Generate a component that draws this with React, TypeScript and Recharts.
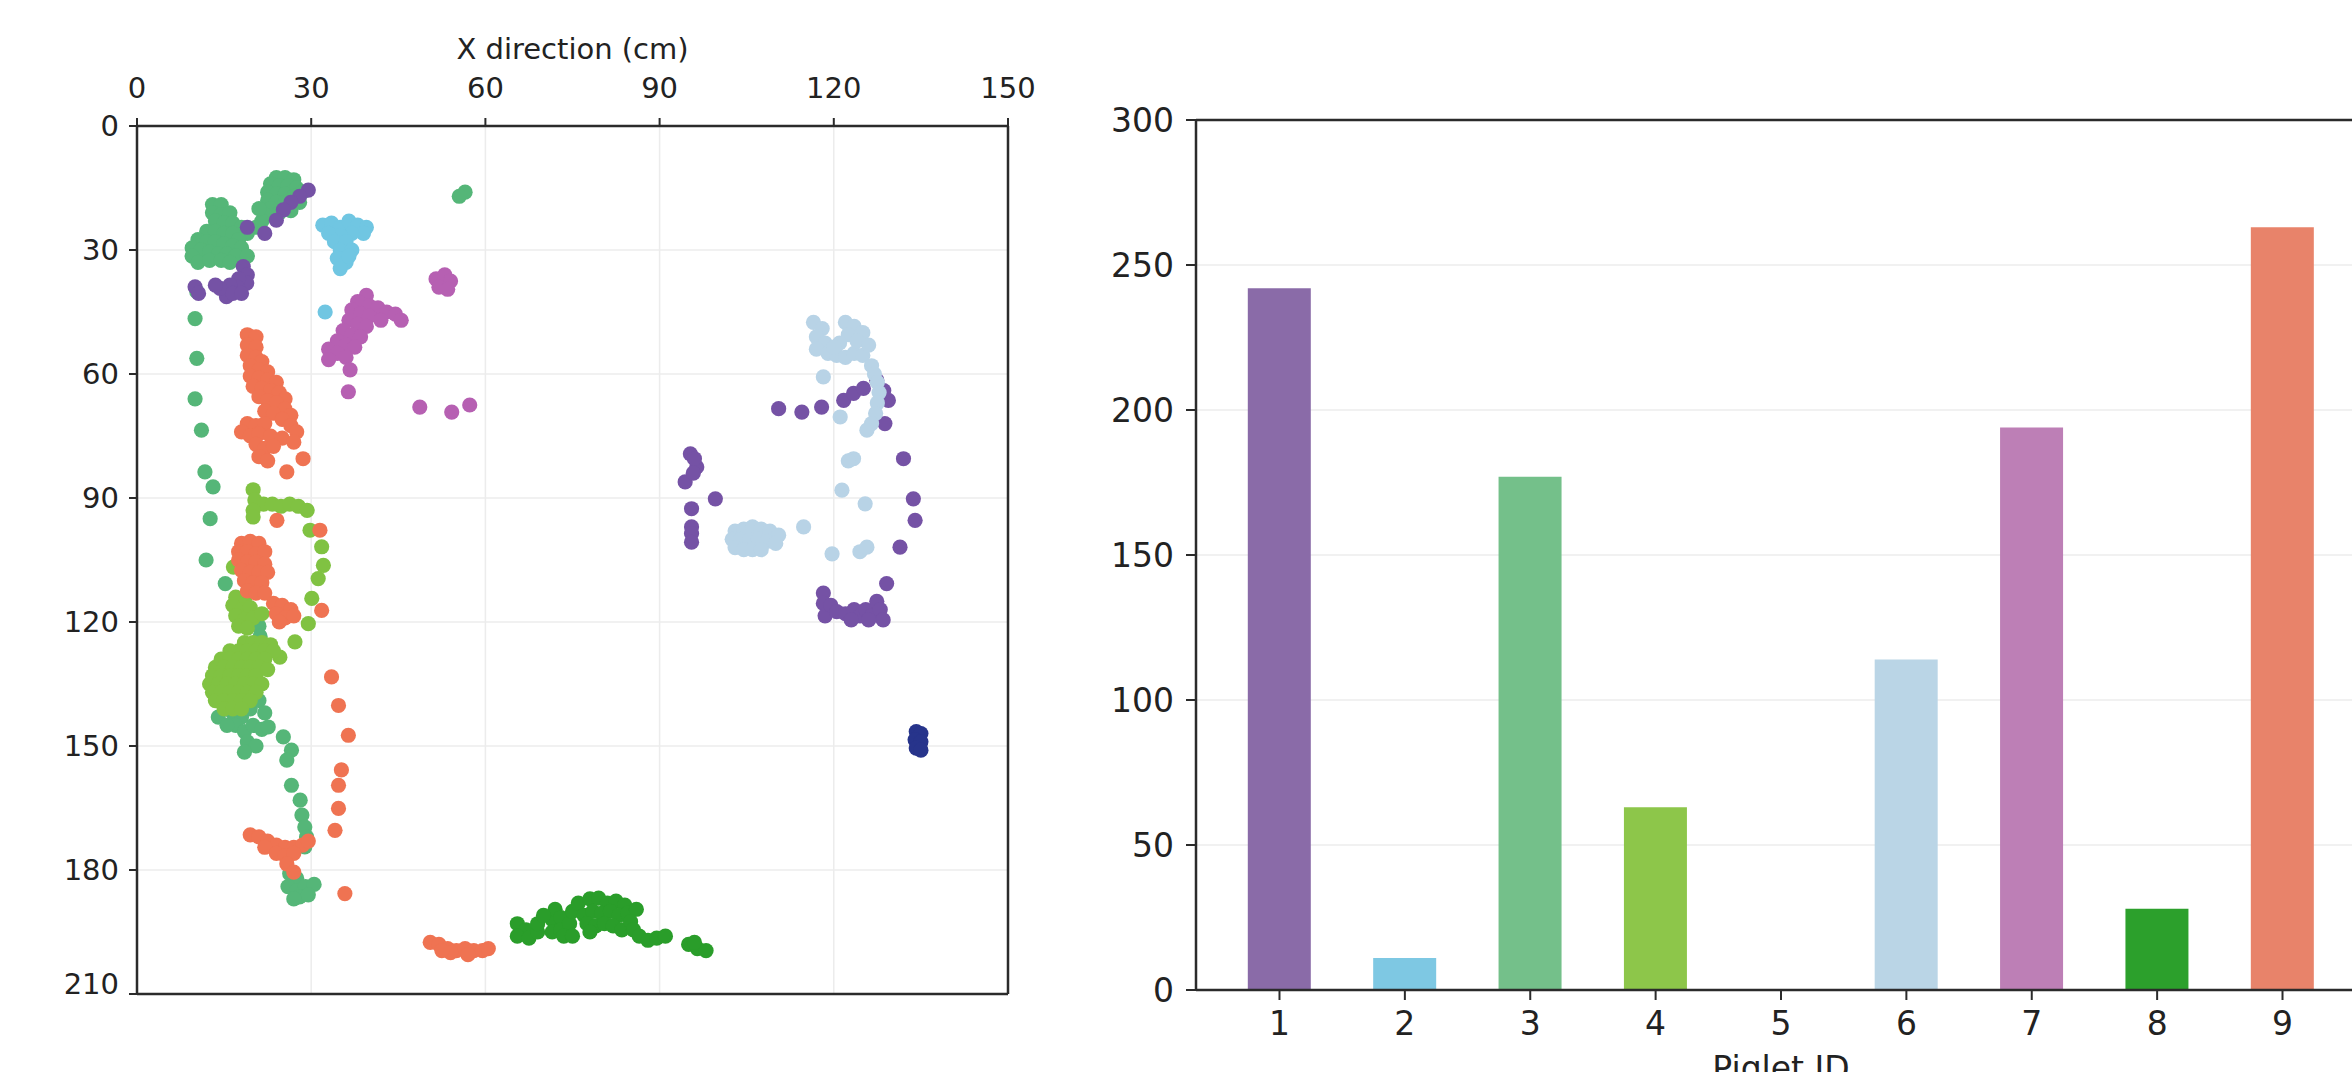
import React from 'react';
import {
  ScatterChart, Scatter, XAxis, YAxis, CartesianGrid, ReferenceLine,
  BarChart, Bar, Cell,
} from 'recharts';

type P = [number, number];

// ---------- scatter data (x, y in cm) ----------
const piglet1Points: P[] = [
  [29.5, 15.5], [28, 17], [26.5, 18.5], [25.2, 20.3], [24, 22.8], [22, 26], [19, 24.5],
  [18.3, 34], [19, 36], [18.9, 38], [17.5, 37], [17.2, 39], [16, 38.5], [15.4, 41.3], [14.3, 39.3],
  [16.5, 40.5], [18, 40.5], [13.5, 38.5], [10, 38.9], [10.6, 40.5],
  [110.5, 68.4], [114.5, 69.2], [117.9, 68], [121.7, 66.4], [123.4, 64.7], [125.1, 63.5], [127.4, 61.5],
  [128.6, 64], [129.4, 66.4], [128.8, 72], [132, 80.5], [133.7, 90.2], [134, 95.4], [131.4, 101.9], [129.1, 110.7],
  [118.2, 113], [118.2, 115.5], [118.5, 118.5], [119.5, 116], [120.5, 117.5], [122, 118], [123.5, 117],
  [124.5, 118.5], [125.5, 117], [126.5, 118.5], [127.4, 115], [128, 117], [128.5, 119.5], [126, 119.5], [123, 119.5],
  [95.3, 79.3], [96.4, 82.5], [94.4, 86.1], [99.6, 90.2], [95.5, 92.6], [95.5, 97], [95.5, 98.6], [95.5, 100.7],
  [96, 80.5], [95.8, 84],
];
const piglet2Points: P[] = [
  [32, 24], [33.5, 23.5], [35, 24.5], [36.5, 23], [38, 24], [39.5, 24.5], [39, 26], [37, 26], [35, 26.5],
  [33, 26], [34, 28], [36, 28], [35, 30], [37, 30], [34.5, 32], [36, 33], [35, 34.5], [36.5, 31.5], [32.4, 45],
];
const piglet3Points: P[] = [
  [24, 12.5], [25.5, 12.5], [27, 13], [23, 14], [24.5, 14.5], [26, 14.5], [27.5, 15], [22.5, 16], [24, 16.5],
  [25.5, 16.5], [27, 17], [22.5, 18], [24, 18.5], [25.5, 18.5], [23, 20], [22, 21.5], [21.5, 23], [20.5, 24.5],
  [28.5, 16], [28, 18.5], [26.5, 20.5], [21, 20], [24.5, 21],
  [13, 19], [14.5, 19], [13, 21], [14.5, 21.5], [16, 21], [13.5, 23], [15, 23.5], [16.5, 23.5], [18, 24.5], [19, 26],
  [12, 25.5], [13.5, 25.5], [15, 26], [16.5, 26], [17.5, 27.5], [10.5, 27.5], [12, 28], [13.5, 28], [15, 28.5],
  [16.5, 29], [18, 29.5], [9.5, 29.5], [11, 30], [12.5, 30.5], [14, 31], [15.5, 31], [17, 31.5], [19, 31.5],
  [9.5, 31.5], [10.5, 33], [12.5, 32.5], [14.5, 32.5], [16, 33],
  [56.5, 16], [55.5, 17],
  [10.3, 40.1], [10, 46.6], [10.3, 56.2], [10, 66], [11.1, 73.6], [11.7, 83.7], [13.1, 87.3], [12.6, 95],
  [11.9, 105], [15.2, 110.7],
  [21, 121], [21.2, 123.5], [20.5, 126],
  [15, 140], [16.5, 142], [18, 143], [19.5, 141], [21, 139], [22, 142], [17, 145], [18.5, 146.5], [20, 145],
  [21.5, 146], [19, 149], [20.5, 150], [18.5, 151.5], [14, 143], [15.5, 145],
  [22.6, 145.4], [25.2, 147.8], [26.6, 151], [25.8, 153.4], [26.6, 159.5], [28.1, 163.1], [28.4, 166.7],
  [28.9, 169.6], [29.2, 172], [28.9, 174.4],
  [26.3, 180.9], [27.5, 182], [26, 184], [27.5, 185], [29, 184], [30.5, 183.5], [28, 186.5], [29.5, 186], [27, 187],
];
const piglet4Points: P[] = [
  [20, 88], [20.3, 90.5], [21.8, 91.5], [23.3, 91.5], [24.8, 92], [26.3, 91.5], [27.8, 92], [29.3, 93], [20, 93], [20, 94.6],
  [29.8, 97.8], [31.8, 101.8], [32.1, 106.3], [31.2, 109.5], [30.1, 114.3], [29.5, 120.4], [27.2, 124.8], [24.6, 128.5],
  [16.6, 106.7], [17, 114], [18.5, 114.5], [16.5, 116], [18, 117], [19.5, 116.5], [17, 118.5], [18.5, 119.5],
  [20, 119], [21.5, 118], [17.5, 121], [19, 121.5],
  [18.5, 125], [20, 125], [21.5, 125], [23, 125.5],
  [16, 127], [17.5, 127], [19, 127], [20.5, 127], [22, 127], [23.5, 127],
  [14.5, 129], [16, 129], [17.5, 129], [19, 129], [20.5, 129], [22, 129],
  [13.5, 131], [15, 131], [16.5, 131], [18, 131], [19.5, 131], [21, 131], [22.5, 131.5],
  [13, 133], [14.5, 133], [16, 133], [17.5, 133], [19, 133], [20.5, 133],
  [12.5, 135], [14, 135], [15.5, 135], [17, 135], [18.5, 135], [20, 135], [21.5, 135],
  [13, 137], [14.5, 137], [16, 137], [17.5, 137], [19, 137], [20.5, 137],
  [13.5, 139], [15, 139], [16.5, 139], [18, 139], [19.5, 139],
  [15, 141], [16.5, 141], [18, 141],
];
const piglet5Points: P[] = [
  [134.2, 146.5], [135, 147], [134, 148.5], [135, 149], [134.2, 150.5], [135, 151],
];
const piglet6Points: P[] = [
  [116.5, 47.5], [118, 49], [117, 51], [118.5, 52.5], [117, 54], [119, 55], [120.5, 55.5], [122, 56], [123.5, 55],
  [125, 55.5], [122, 47.5], [123.5, 48.5], [125, 50], [122.5, 50.5], [124, 52], [126, 53], [121, 52.5], [120, 53.5],
  [126.5, 58], [127, 60], [127.5, 62], [127.8, 64.5], [127.5, 67], [127.2, 69.5], [126.5, 72], [125.7, 73.6],
  [118.2, 60.7], [121.1, 70.4], [123.4, 80.5], [122.5, 81], [121.4, 88.1], [125.4, 91.4], [114.8, 97],
  [119.7, 103.5], [124.5, 103], [125.7, 101.9],
  [103, 98], [104.5, 97.5], [106, 97], [107.5, 97.5], [109, 98], [110.5, 99], [102.5, 100], [104, 100],
  [105.5, 100], [107, 100], [108.5, 100.5], [110, 101], [103, 102], [104.5, 102.5], [106, 102.5], [107.5, 102.5],
];
const piglet7Points: P[] = [
  [39.5, 41], [38, 42.5], [40, 43.5], [41.5, 44], [43, 45], [44.5, 45.5], [45.5, 47], [37, 44.5], [38.5, 45.5],
  [40, 46], [42, 47], [36.5, 47], [38, 48], [39.5, 48.5], [35.5, 49.5], [37, 50.5], [38.5, 51], [34.5, 52],
  [36, 53], [37.5, 53.5], [33, 54], [34.5, 55], [36, 56], [33, 56.5],
  [36.7, 59], [36.4, 64.3],
  [51.5, 37], [53, 36], [54, 37.5], [52, 39], [53.5, 39.5],
  [48.7, 68], [54.2, 69.2], [57.3, 67.5],
];
const piglet8Points: P[] = [
  [65.5, 193], [67, 194.5], [65.5, 196], [67.5, 196.5], [69, 195], [69, 193],
  [71.5, 192], [72, 189.5], [73, 191.5], [71.5, 195], [73, 194.5], [74.5, 193], [75, 190], [73.5, 196], [75, 196],
  [70, 191], [76, 188], [77, 191],
  [78, 187], [79.5, 186.8], [81, 188], [82.5, 187.5], [84, 188.5], [78.5, 190], [80, 190.5], [81.5, 190],
  [83, 191], [84.5, 190.5], [77.5, 193], [79, 193.5], [80.5, 193], [82, 193.5], [78, 195], [83.5, 194.5], [86, 189.5],
  [85, 192.5], [85.5, 194.5], [86.5, 196], [88, 197], [89.5, 196.5], [91, 196],
  [95, 198], [96.5, 199], [98, 199.5], [96, 197.5],
];
const piglet9Points: P[] = [
  [19, 50.5], [20.5, 51], [19, 53], [20.5, 53.5], [19, 55.5], [20.5, 56], [21.5, 57], [19.5, 58], [21, 59],
  [22.5, 59.5], [19.5, 60.5], [21, 61], [22.5, 61.5], [24, 62], [20, 63], [21.5, 63.5], [23, 64], [24.5, 64.5],
  [25.5, 66], [21, 65.5], [22.5, 66.5], [24, 67], [25.5, 68.5], [26.5, 70], [22, 69], [23.5, 69.5], [25, 71],
  [26.5, 72.5], [27.5, 74], [19, 72], [20.5, 72.5], [22, 72], [18, 74], [19.5, 75], [21, 74.5], [23, 75],
  [25, 75.5], [27, 76.5], [20.5, 77], [22, 78], [23.5, 77.5], [21, 80], [22.5, 81],
  [28.6, 80.5], [25.8, 83.7], [24.1, 95.4],
  [18, 101], [19.5, 100.5], [21, 101], [17.5, 103], [19, 103], [20.5, 103.5], [22, 103], [17.5, 105], [19, 105.5],
  [20.5, 105.5], [22, 106], [18, 107.5], [19.5, 108], [21, 108], [22.5, 108], [18.5, 110], [20, 110.5],
  [21.5, 110.5], [19, 112.5], [20.5, 113], [22, 113], [23.5, 115.5], [25, 116], [26.5, 117], [24, 118],
  [25.5, 119], [27, 118.5], [24.5, 120],
  [31.5, 97.8], [31.8, 117.2], [33.5, 133.3], [34.7, 140.2], [36.4, 147.4], [35.2, 155.8], [34.7, 159.5],
  [34.7, 165.1], [34.1, 170.4], [35.8, 185.7],
  [19.5, 171.5], [21, 172], [22.5, 173], [24, 174], [25.5, 174.5], [27, 174.5], [28.5, 174], [29.5, 173],
  [22, 174.5], [24, 176], [25.5, 176.5], [27, 176], [25.8, 178.5], [27, 180.5],
  [50.5, 197.5], [52, 198], [53.5, 199], [55, 199.5], [56.5, 199], [58, 199.5], [59.5, 199.5], [60.5, 199],
  [54, 200], [57, 200.5], [52.5, 199.5],
];

const xTicks = [0, 30, 60, 90, 120, 150];
const yTicks = [0, 30, 60, 90, 120, 150, 180, 210];

// ---------- bar data ----------
const pigletIds = ['1', '2', '3', '4', '5', '6', '7', '8', '9'];
const pigletCounts = [242, 11, 177, 63, 0, 114, 194, 28, 263];
const barColors = ['#8a6ba8', '#7ec8e3', '#74c08a', '#8dc64a', '#283593', '#bad5e6', '#bd7fb6', '#2ca02c', '#e8836a'];
const barTicks = [0, 50, 100, 150, 200, 250, 300];

const scatterSeries = [
  { name: '3', pts: piglet3Points, color: '#55b678' },
  { name: '1', pts: piglet1Points, color: '#7552a5' },
  { name: '2', pts: piglet2Points, color: '#70c6e2' },
  { name: '7', pts: piglet7Points, color: '#b660b2' },
  { name: '4', pts: piglet4Points, color: '#80c242' },
  { name: '9', pts: piglet9Points, color: '#ef7352' },
  { name: '6', pts: piglet6Points, color: '#b8d3e6' },
  { name: '8', pts: piglet8Points, color: '#2a9d2a' },
  { name: '5', pts: piglet5Points, color: '#27348b' },
];

const FONT = 'DejaVu Sans, sans-serif';
const AXIS = '#2b2b2b';
const TXT = '#222';
const GRID = '#ececec';

const dot = (color: string) => (props: any) => (
  <circle cx={props.cx} cy={props.cy} r={7.6} fill={color} />
);

export default function App() {
  const barData = pigletIds.map((id, i) => ({ id, count: pigletCounts[i] }));
  return (
    <div style={{ position: 'absolute', left: 0, top: 0, width: 2352, height: 1072, overflow: 'hidden', background: '#fff', fontFamily: FONT }}>
      <div style={{ position: 'absolute', left: 0, top: 0 }}>
        <ScatterChart width={1040} height={1000} margin={{ top: 26, right: 32, bottom: 6, left: 0 }}>
          <CartesianGrid stroke={GRID} strokeWidth={1.5} />
          <XAxis
            type="number" dataKey="x" orientation="top" domain={[0, 150]} ticks={xTicks} height={100}
            tick={{ fontSize: 29, fill: TXT, fontFamily: FONT }} tickSize={8} tickMargin={20}
            axisLine={{ stroke: AXIS, strokeWidth: 2.5 }} tickLine={{ stroke: AXIS, strokeWidth: 2 }}
            label={{ value: 'X direction (cm)', position: 'insideTop', offset: 12, fontSize: 29, fill: TXT, fontFamily: FONT }}
            allowDataOverflow
          />
          <YAxis
            type="number" dataKey="y" domain={[0, 210]} ticks={yTicks} reversed width={137}
            tick={{ fontSize: 29, fill: TXT, fontFamily: FONT }} tickSize={8} tickMargin={10}
            axisLine={{ stroke: AXIS, strokeWidth: 2.5 }} tickLine={{ stroke: AXIS, strokeWidth: 2 }}
            allowDataOverflow
          />
          {scatterSeries.map((s) => (
            <Scatter
              key={s.name}
              name={s.name}
              data={s.pts.map(([x, y]) => ({ x, y }))}
              fill={s.color}
              shape={dot(s.color)}
              isAnimationActive={false}
            />
          ))}
          <ReferenceLine y={210} stroke={AXIS} strokeWidth={2.5} />
          <ReferenceLine x={150} stroke={AXIS} strokeWidth={2.5} />
        </ScatterChart>
      </div>
      <div style={{ position: 'absolute', left: 1096, top: 0 }}>
        <BarChart width={1280} height={1100} data={barData} margin={{ top: 120, right: 10, bottom: 0, left: 0 }}>
          <CartesianGrid stroke={GRID} strokeWidth={1.5} vertical={false} />
          <XAxis
            dataKey="id" height={110} padding={{ left: 20.8, right: 20.8 }}
            tick={{ fontSize: 33, fill: TXT, fontFamily: FONT }} tickSize={10} tickMargin={12}
            axisLine={{ stroke: AXIS, strokeWidth: 2.5 }} tickLine={{ stroke: AXIS, strokeWidth: 2 }}
            label={{ value: 'Piglet ID', position: 'insideBottom', offset: 20, fontSize: 33, fill: TXT, fontFamily: FONT }}
          />
          <YAxis
            type="number" domain={[0, 300]} ticks={barTicks} width={100}
            tick={{ fontSize: 33, fill: TXT, fontFamily: FONT }} tickSize={10} tickMargin={12}
            axisLine={{ stroke: AXIS, strokeWidth: 2.5 }} tickLine={{ stroke: AXIS, strokeWidth: 2 }}
          />
          <ReferenceLine y={300} stroke={AXIS} strokeWidth={2.5} />
          <Bar dataKey="count" barSize={63} isAnimationActive={false}>
            {barData.map((d, i) => (
              <Cell key={d.id} fill={barColors[i]} />
            ))}
          </Bar>
        </BarChart>
      </div>
    </div>
  );
}
